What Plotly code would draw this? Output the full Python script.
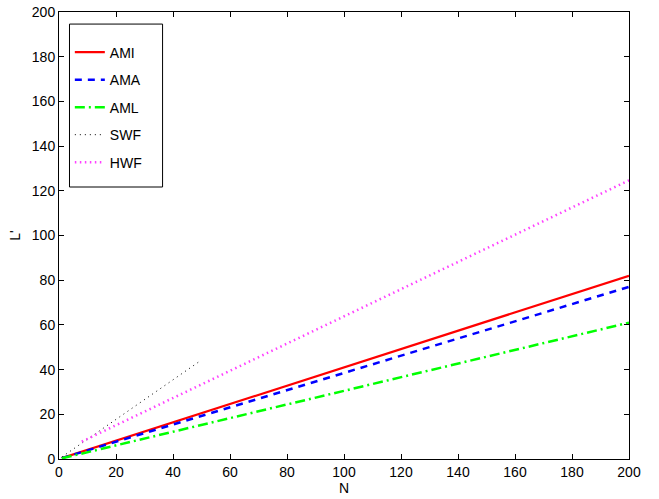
import plotly.graph_objects as go

# Sample sizes and the L' values of each scheme
n_main = [1, 50, 100, 150, 200]
ami = [0.4, 20.5, 41.0, 61.5, 82.0]
ama = [0.4, 19.2, 38.5, 57.7, 77.0]
aml = [0.3, 15.2, 30.5, 45.7, 61.0]

n_swf = [1, 25, 49]
swf = [0.9, 22.0, 43.4]

n_hwf = [8, 50, 100, 150, 200]
hwf = [7.8, 33.4, 63.9, 94.4, 124.7]

x_ticks = [0, 20, 40, 60, 80, 100, 120, 140, 160, 180, 200]
y_ticks = [0, 20, 40, 60, 80, 100, 120, 140, 160, 180, 200]

FONT = "Arial, Liberation Sans, Helvetica, sans-serif"
FS = 14

series = [
    ("AMI", n_main, ami, dict(color="#ff0000", width=2.2, dash="solid")),
    ("AMA", n_main, ama, dict(color="#0000ff", width=2.5, dash="7px,6px")),
    ("AML", n_main, aml, dict(color="#00ff00", width=2.5, dash="10px,4px,2px,4px")),
    ("SWF", n_swf, swf, dict(color="#000000", width=1, dash="1px,4px")),
    ("HWF", n_hwf, hwf, dict(color="#ff40ff", width=2.5, dash="1.5px,3.5px")),
]

fig = go.Figure()
for name, xs, ys, line in series:
    fig.add_trace(go.Scatter(
        x=xs, y=ys, mode="lines", name=name, line=line,
        legendgroup=name,
    ))

axis_common = dict(
    showline=True, linecolor="black", linewidth=1, mirror="ticks",
    ticks="inside", ticklen=5, tickcolor="black", tickwidth=1,
    showgrid=False, zeroline=False, automargin=False,
    tickfont=dict(family=FONT, size=FS, color="black"),
)

# Legend frame drawn as a paper-space box behind the legend entries
fig.add_shape(
    type="rect", xref="paper", yref="paper",
    x0=0.0184, x1=0.1817, y0=0.6085, y1=0.973,
    line=dict(color="black", width=1), fillcolor="white", layer="above",
)

fig.update_layout(
    width=659, height=499,
    margin=dict(l=59, r=30, t=12, b=40),
    paper_bgcolor="white", plot_bgcolor="white",
    font=dict(family=FONT, size=FS, color="black"),
    xaxis=dict(range=[0, 200], tickvals=x_ticks,
               title=dict(text="N", font=dict(family=FONT, size=FS), standoff=1),
               **axis_common),
    yaxis=dict(range=[0, 200], tickvals=y_ticks,
               title=dict(text="L'", font=dict(family=FONT, size=FS), standoff=7),
               **axis_common),
    legend=dict(
        x=0.019, y=0.945, xanchor="left", yanchor="top",
        bgcolor="rgba(0,0,0,0)", borderwidth=0,
        font=dict(family=FONT, size=FS, color="black"),
        tracegroupgap=6.3, itemwidth=30,
    ),
    showlegend=True,
)

fig.write_html("out.html")
